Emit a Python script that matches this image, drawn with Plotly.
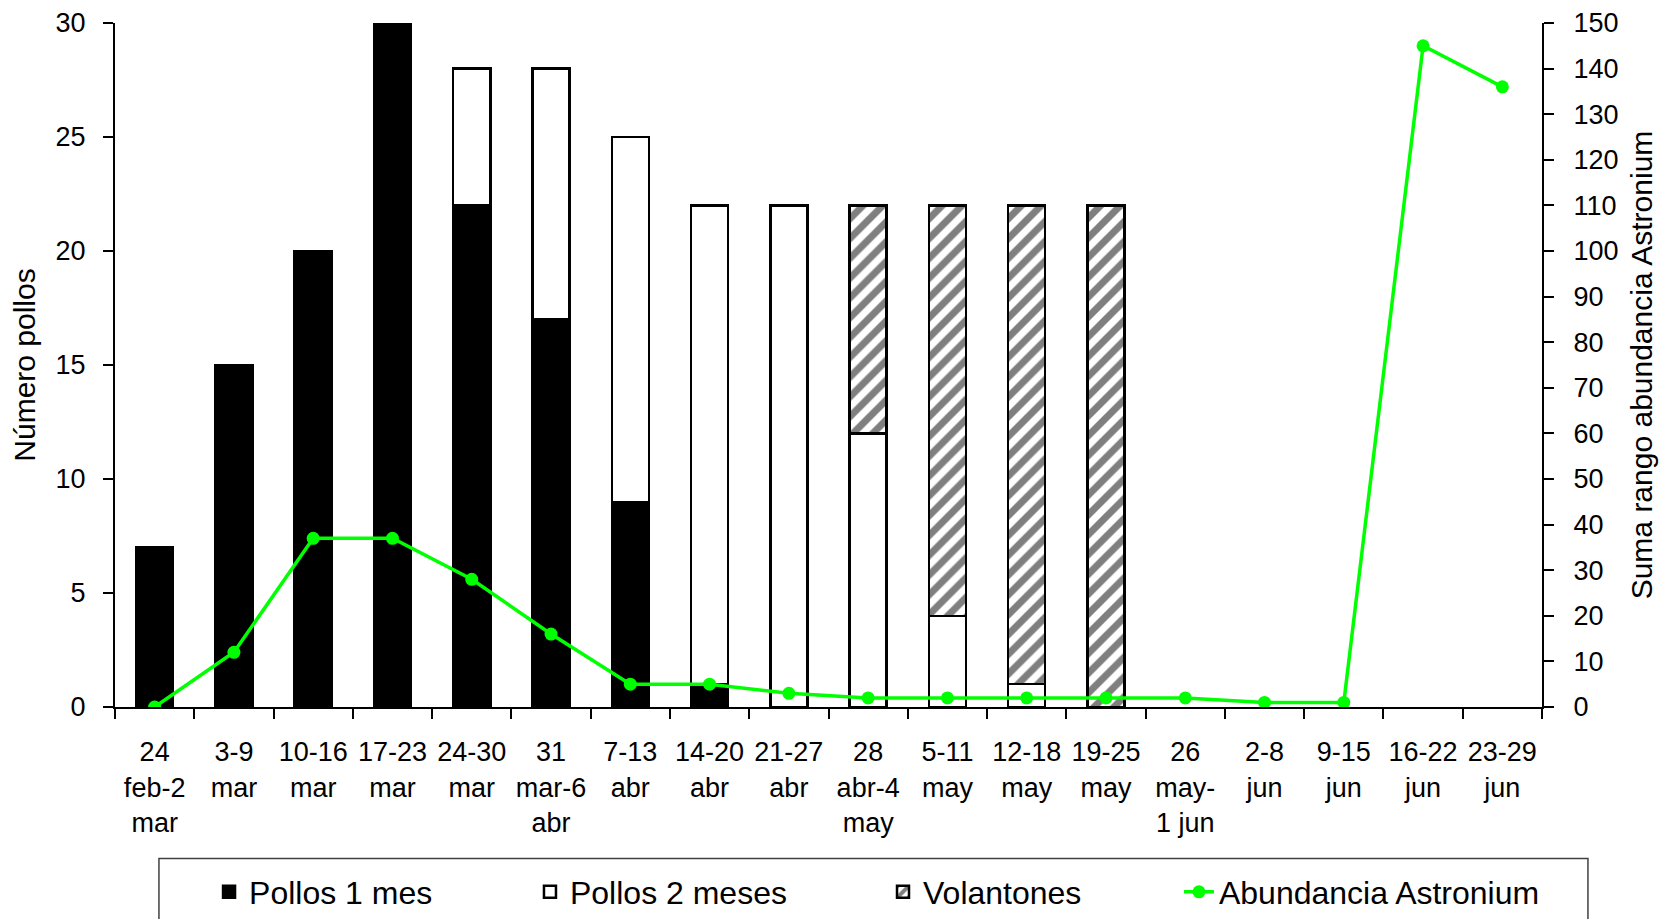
import plotly.graph_objects as go

# Weekly periods
semanas = ["24<br>feb-2<br>mar", "3-9<br>mar", "10-16<br>mar", "17-23<br>mar", "24-30<br>mar",
           "31<br>mar-6<br>abr", "7-13<br>abr", "14-20<br>abr", "21-27<br>abr", "28<br>abr-4<br>may",
           "5-11<br>may", "12-18<br>may", "19-25<br>may", "26<br>may-<br>1 jun", "2-8<br>jun",
           "9-15<br>jun", "16-22<br>jun", "23-29<br>jun"]

# Number of chicks per class (None = no chicks that week)
pollos_1_mes = [7, 15, 20, 30, 22, 17, 9, 1, None, None, None, None, None, None, None, None, None, None]
pollos_2_meses = [None, None, None, None, 6, 11, 16, 21, 22, 12, 4, 1, None, None, None, None, None, None]
volantones = [None, None, None, None, None, None, None, None, None, 10, 18, 21, 22, None, None, None, None, None]

# Summed abundance rank of Astronium
abundancia = [0, 12, 37, 37, 28, 16, 5, 5, 3, 2, 2, 2, 2, 2, 1, 1, 145, 136]

FONT = "Liberation Sans, Arial, sans-serif"
BAR_W = 0.467
OUTLINE = dict(color="black", width=2.5)
GREEN = "#00FF00"

fig = go.Figure()
fig.add_trace(go.Bar(x=semanas, y=pollos_1_mes, name="Pollos 1 mes", width=BAR_W,
                     marker=dict(color="black", line=OUTLINE), legend="legend"))
fig.add_trace(go.Bar(x=semanas, y=pollos_2_meses, name="Pollos 2 meses", width=BAR_W,
                     marker=dict(color="white", line=OUTLINE), legend="legend2"))
fig.add_trace(go.Bar(x=semanas, y=volantones, name="Volantones", width=BAR_W,
                     marker=dict(color="white", line=OUTLINE,
                                 pattern=dict(shape="/", fgcolor="black", bgcolor="white",
                                              size=14, solidity=0.5)),
                     legend="legend3"))
fig.add_trace(go.Scatter(x=semanas, y=abundancia, name="Abundancia Astronium", yaxis="y2",
                         mode="lines+markers", line=dict(color=GREEN, width=3.5),
                         marker=dict(color=GREEN, size=13), legend="legend4"))

# One legend entry per legend so the entries sit at fixed spots along the bottom
legend_style = dict(orientation="h", xanchor="left", yref="container", y=0.0294,
                    yanchor="middle", bgcolor="rgba(0,0,0,0)", borderwidth=0,
                    font=dict(size=32))
legend_x = [0.0659, 0.2908, 0.5382, 0.7456]

axis_common = dict(ticks="outside", ticklen=10, tickwidth=2, tickcolor="black",
                   showline=True, linecolor="black", linewidth=2, showgrid=False,
                   automargin=False)

fig.update_layout(
    width=1662, height=919,
    barmode="stack",
    showlegend=True,
    plot_bgcolor="white", paper_bgcolor="white",
    font=dict(family=FONT, size=27, color="black"),
    margin=dict(l=115, r=120, t=23, b=212),
    xaxis=dict(type="category", tickson="boundaries", tickfont=dict(size=27), tickangle=0,
               ticklabelstandoff=20, range=[-0.5, 17.5], **axis_common),
    yaxis=dict(range=[0, 30], dtick=5, zeroline=False, tickfont=dict(size=27),
               ticklabelstandoff=12,
               title=dict(text="Número pollos", font=dict(size=30), standoff=11),
               **axis_common),
    yaxis2=dict(range=[0, 150], dtick=10, overlaying="y", side="right", zeroline=False,
                tickfont=dict(size=27), ticklabelstandoff=14,
                title=dict(text="Suma rango abundancia Astronium", font=dict(size=30), standoff=14),
                **axis_common),
    legend=dict(x=legend_x[0], **legend_style),
    legend2=dict(x=legend_x[1], **legend_style),
    legend3=dict(x=legend_x[2], **legend_style),
    legend4=dict(x=legend_x[3], **legend_style),
    shapes=[dict(type="rect", xref="paper", yref="paper", x0=0.0308, x1=1.0322,
                 y0=-0.33, y1=-0.2215, line=dict(color="#404040", width=1.5),
                 fillcolor="rgba(0,0,0,0)", layer="below")],
)

fig.write_html("out.html")
